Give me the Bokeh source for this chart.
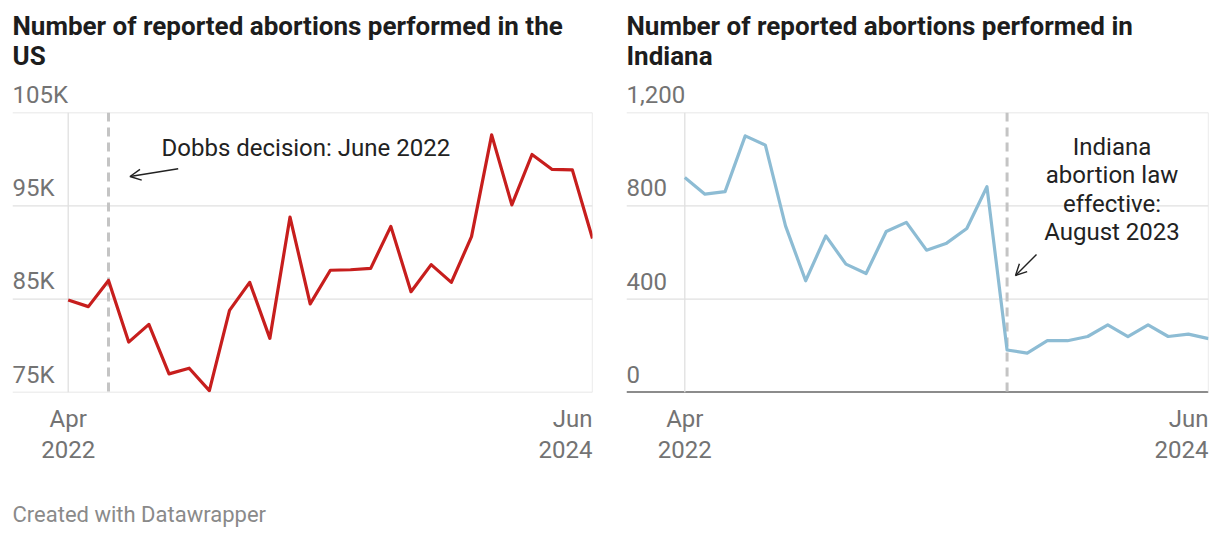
from bokeh.plotting import figure
from bokeh.models import Range1d, Span, Arrow, OpenHead
from bokeh.layouts import row
from bokeh.embed import file_html
from bokeh.resources import INLINE
from bokeh.core.properties import value

# ---------------- data ----------------
MONTHS = ["Apr 2022", "May 2022", "Jun 2022", "Jul 2022", "Aug 2022", "Sep 2022",
          "Oct 2022", "Nov 2022", "Dec 2022", "Jan 2023", "Feb 2023", "Mar 2023",
          "Apr 2023", "May 2023", "Jun 2023", "Jul 2023", "Aug 2023", "Sep 2023",
          "Oct 2023", "Nov 2023", "Dec 2023", "Jan 2024", "Feb 2024", "Mar 2024",
          "Apr 2024", "May 2024", "Jun 2024"]

US_ABORTIONS = [84900, 84200, 87000, 80400, 82300, 77000, 77600, 75200, 83800,
                86800, 80800, 93800, 84500, 88100, 88150, 88300, 92800, 85800,
                88700, 86800, 91700, 102600, 95100, 100500, 98900, 98850, 91500]

INDIANA_ABORTIONS = [921, 850, 861, 1100, 1060, 714, 479, 671, 550, 510, 690, 729,
                     610, 640, 703, 882, 182, 169, 222, 222, 240, 290, 239, 290,
                     240, 250, 231]

US_Y_TICKS = [75000, 85000, 95000, 105000]
US_Y_LABELS = ["75K", "85K", "95K", "105K"]
IN_Y_TICKS = [0, 400, 800, 1200]
IN_Y_LABELS = ["0", "400", "800", "1,200"]

X_TICK_MONTHS = ["Apr 2022", "Jun 2024"]
X_TICK_LABELS = [("Apr", "2022"), ("Jun", "2024")]

US_EVENT_MONTH = "Jun 2022"
US_EVENT_TEXT = ["Dobbs decision: June 2022"]
IN_EVENT_MONTH = "Aug 2023"
IN_EVENT_TEXT = ["Indiana", "abortion law", "effective:", "August 2023"]

TITLES = [["Number of reported abortions performed in the", "US"],
          ["Number of reported abortions performed in", "Indiana"]]
FOOTER = "Created with Datawrapper"

# ---------------- style ----------------
FONT = value("Roboto")
GRID_COLOR = "#e0e0e0"
TICK_COLOR = "#737373"
TEXT_COLOR = "#222222"
DASH_COLOR = "#c4c4c4"
FRAME_TOP = 112      # page px
FRAME_H = 280
FIG_H = 535
TICK_SIZE = "24px"
NOTE_SIZE = "24px"
TITLE_SIZE = "26px"
FOOT_SIZE = "22px"
BASE_FIX = 8         # px correction for the text baseline

x_idx = list(range(len(MONTHS)))


def build(title_lines, vals, yticks, ylabels, color, frame_left, frame_w,
          first_tick_px, bl, br, black_base, footer):
    last = len(MONTHS) - 1
    ppm = (frame_left + frame_w - first_tick_px) / last
    xmin = -(first_tick_px - frame_left) / ppm
    xmax = last
    ymin, ymax = yticks[0], yticks[-1]

    def fx(px):
        return xmin + (px - frame_left) * (xmax - xmin) / frame_w

    def fy(py):
        return ymax - (py - BASE_FIX - FRAME_TOP) * (ymax - ymin) / FRAME_H

    p = figure(frame_width=frame_w, frame_height=FRAME_H,
               x_range=Range1d(xmin, xmax), y_range=Range1d(ymin, ymax),
               x_axis_location=None, y_axis_location=None,
               toolbar_location=None, output_backend="svg",
               min_border_left=bl, min_border_right=br,
               min_border_top=FRAME_TOP,
               min_border_bottom=FIG_H - (FRAME_TOP + FRAME_H),
               outline_line_color=None, background_fill_color="white",
               border_fill_color="white")
    p.grid.visible = False

    # grid lines
    for t in yticks:
        if black_base and t == yticks[0]:
            p.add_layout(Span(location=t, dimension="width", line_color="#1a1a1a",
                              line_width=2, level="underlay"))
        else:
            p.add_layout(Span(location=t, dimension="width", line_color=GRID_COLOR,
                              line_width=1.3, level="underlay"))
    for m in X_TICK_MONTHS:
        p.add_layout(Span(location=MONTHS.index(m), dimension="height",
                          line_color=GRID_COLOR, line_width=1.3, level="underlay"))

    # tick labels (above grid lines, left aligned)
    upp = (ymax - ymin) / FRAME_H
    p.text(x=[xmin] * len(yticks), y=[t + (10 + BASE_FIX) * upp for t in yticks],
           text=ylabels, text_font=FONT, text_font_size=TICK_SIZE,
           text_color=TICK_COLOR, text_align="left", text_baseline="alphabetic",
           level="overlay")
    # x labels
    for m, (a, b), align in zip(X_TICK_MONTHS, X_TICK_LABELS, ["center", "right"]):
        xi = MONTHS.index(m)
        p.text(x=[xi, xi], y=[fy(426.5), fy(456.5)], text=[a, b], text_font=FONT,
               text_font_size=TICK_SIZE, text_color=TICK_COLOR, text_align=align,
               text_baseline="alphabetic", level="overlay")

    # title
    p.text(x=[xmin, xmin], y=[fy(33.3), fy(63.3)], text=title_lines, text_font=FONT,
           text_font_size=TITLE_SIZE, text_font_style="bold", text_color="#1d1d1d",
           text_align="left", text_baseline="alphabetic", level="overlay")

    if footer:
        p.text(x=[xmin], y=[fy(521.5)], text=[FOOTER], text_font=FONT,
               text_font_size=FOOT_SIZE, text_color="#8a8a8a", text_align="left",
               text_baseline="alphabetic", level="overlay")

    p.line(x_idx, vals, line_color=color, line_width=3.2, line_join="round")
    return p, fx, fy


pL, lx, ly = build(TITLES[0], US_ABORTIONS, US_Y_TICKS, US_Y_LABELS, "#c71e1d",
                   frame_left=12, frame_w=580, first_tick_px=67.7, bl=12, br=22,
                   black_base=False, footer=True)
pR, rx, ry = build(TITLES[1], INDIANA_ABORTIONS, IN_Y_TICKS, IN_Y_LABELS, "#8dbcd4",
                   frame_left=626, frame_w=582, first_tick_px=684.3, bl=12, br=4,
                   black_base=True, footer=False)

# event lines
pL.add_layout(Span(location=MONTHS.index(US_EVENT_MONTH), dimension="height",
                   line_color=DASH_COLOR, line_width=3, line_dash="9 6", level="underlay"))
pR.add_layout(Span(location=MONTHS.index(IN_EVENT_MONTH), dimension="height",
                   line_color=DASH_COLOR, line_width=3, line_dash="9 6", level="underlay"))

# annotations
pL.text(x=[lx(161)], y=[ly(155)], text=US_EVENT_TEXT, text_font=FONT,
        text_font_size=NOTE_SIZE, text_color=TEXT_COLOR, text_align="left",
        text_baseline="alphabetic", level="overlay")
pL.add_layout(Arrow(x_start=lx(177.7), y_start=ly(168.3 + BASE_FIX),
                    x_end=lx(129.5), y_end=ly(176 + BASE_FIX),
                    line_color=TEXT_COLOR, line_width=1.4,
                    end=OpenHead(size=11, line_color=TEXT_COLOR, line_width=1.4)))

pR.text(x=[rx(1111.5)] * 4, y=[ry(b) for b in [154, 182.5, 211, 239.3]],
        text=IN_EVENT_TEXT, text_font=FONT, text_font_size=NOTE_SIZE,
        text_color=TEXT_COLOR, text_align="center", text_baseline="alphabetic",
        level="overlay")
pR.add_layout(Arrow(x_start=rx(1036), y_start=ry(254 + BASE_FIX),
                    x_end=rx(1015), y_end=ry(275 + BASE_FIX),
                    line_color=TEXT_COLOR, line_width=1.4,
                    end=OpenHead(size=11, line_color=TEXT_COLOR, line_width=1.4)))

layout = row(pL, pR)
open("out.html", "w").write(file_html(layout, INLINE))
